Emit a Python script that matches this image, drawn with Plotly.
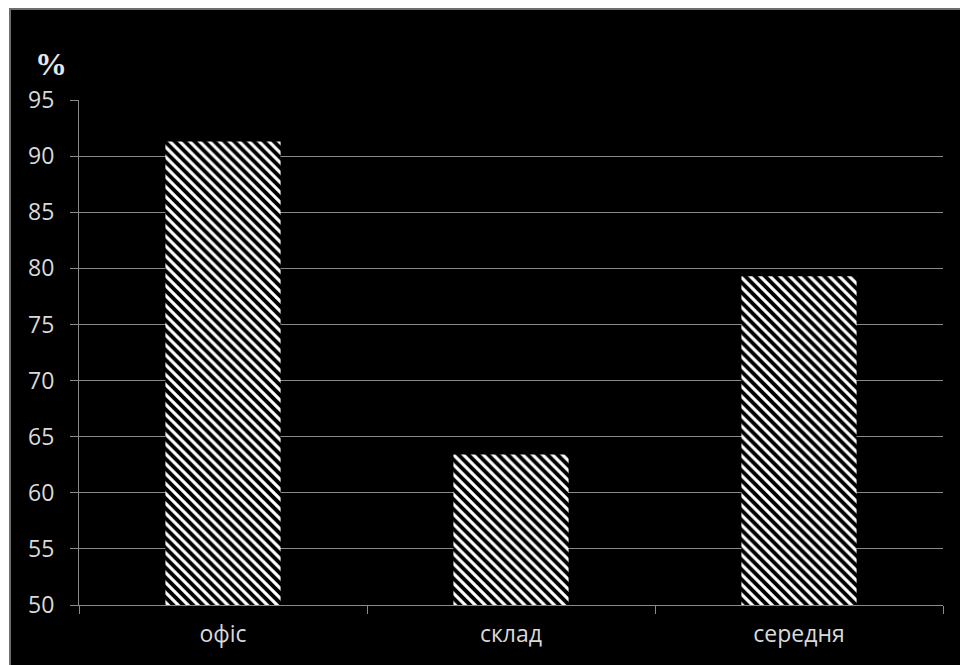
import plotly.graph_objects as go

categories = ["офіс", "склад", "середня"]
values = [91.3, 63.4, 79.3]
y_ticks = [50, 55, 60, 65, 70, 75, 80, 85, 90, 95]

W, H = 960, 665
L, R, T, B = 79, 17, 100, 60
pw, ph = W - L - R, H - T - B

fig = go.Figure()
fig.add_trace(go.Bar(
    x=categories, y=values,
    marker=dict(
        color="black",
        line=dict(width=0),
        pattern=dict(shape="\\", fgcolor="white", bgcolor="black",
                     size=7, solidity=0.45, fillmode="replace"),
    ),
    width=0.4,
    hoverinfo="skip",
))

# black panel with grey border
fig.add_shape(type="rect", xref="paper", yref="paper", layer="below",
              x0=(10 - L) / pw, x1=(W - L + 5) / pw,
              y0=(T + ph - H - 5) / ph, y1=(T + ph - 9) / ph,
              fillcolor="black", line=dict(color="#6e6e6e", width=2))

fig.add_annotation(text="<b>%</b>", xref="paper", yref="paper",
                   x=(51 - L) / pw, y=(T + ph - 64) / ph,
                   showarrow=False, xanchor="center", yanchor="middle",
                   font=dict(family="Liberation Serif", size=32, color="#e6e6e6"))

fig.update_layout(
    width=W, height=H,
    margin=dict(l=L, r=R, t=T, b=B),
    paper_bgcolor="white", plot_bgcolor="black",
    showlegend=False,
    font=dict(family="Open Sans", size=23, color="#d9d9d9"),
)
fig.update_yaxes(
    range=[50, 95], tickvals=y_ticks, ticktext=[str(v) for v in y_ticks],
    showgrid=True, gridcolor="#8a8a8a", gridwidth=1,
    showline=True, linecolor="#8a8a8a", linewidth=1,
    ticks="outside", ticklen=8, tickcolor="#8a8a8a",
    ticklabelstandoff=11, zeroline=False,
    tickfont=dict(family="Open Sans", size=23, color="#d9d9d9"),
)
fig.update_xaxes(
    type="category", tickson="boundaries",
    showline=True, linecolor="#8a8a8a", linewidth=1,
    ticks="outside", ticklen=8, tickcolor="#8a8a8a",
    showgrid=False, ticklabelstandoff=8,
    tickfont=dict(family="Open Sans", size=23, color="#d9d9d9"),
)

fig.write_html("out.html")
